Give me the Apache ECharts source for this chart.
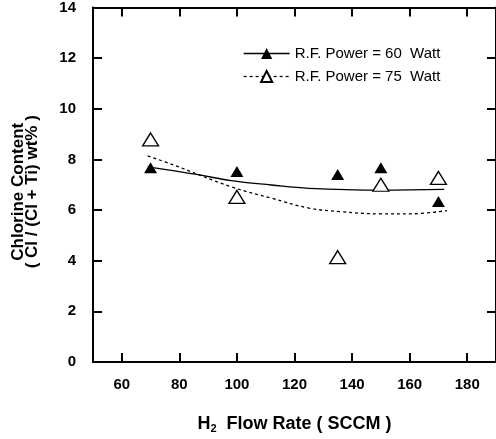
<!DOCTYPE html>
<html>
<head>
    <meta charset="utf-8"/>
    <title>Chlorine Content</title>
    <script type="text/javascript" src="https://cdn.jsdelivr.net/npm/echarts@6/dist/echarts.min.js"></script>
    <style>
        html, body {
            margin: 0;
            padding: 0;
            background: #fff;
        }

        #chart {
            width: 496px;
            height: 439px;
        }
    </style>
</head>
<body>
<div id="chart"></div>

<script type="text/javascript">
    // tick labels
    let xTicks = [60, 80, 100, 120, 140, 160, 180];

    // measured points
    let flowRates = [70, 100, 135, 150, 170];
    let cl60 = [7.67, 7.52, 7.40, 7.67, 6.34];
    let cl75 = [8.79, 6.52, 4.14, 7.00, 7.27];

    // fitted curves
    let fit60X = [69, 86, 98, 112, 125, 150, 172];
    let fit60Y = [7.71, 7.41, 7.16, 6.99, 6.86, 6.79, 6.82];
    let fit75X = [69, 78, 98, 112, 125, 136, 150, 160, 173];
    let fit75Y = [8.14, 7.78, 6.92, 6.47, 6.08, 5.94, 5.85, 5.85, 5.98];

    let name60 = 'R.F. Power = 60  Watt';
    let name75 = 'R.F. Power = 75  Watt';

    function pairs(xs, ys) {
        return xs.map(function (x, i) {
            return [x, ys[i]];
        });
    }

    let font = 'Liberation Sans, Arial, sans-serif';
    let axisLine = {show: true, onZero: false, lineStyle: {color: '#000', width: 2}};
    let axisTick = {show: true, inside: true, length: 9, lineStyle: {color: '#000', width: 2}};

    let chart = echarts.init(document.getElementById('chart'));
    chart.setOption({
        animation: false,
        backgroundColor: '#fff',
        grid: {
            left: 93,
            right: 0,
            top: 7,
            bottom: 76
        },
        legend: {
            orient: 'vertical',
            left: 238,
            top: 41,
            itemWidth: 46,
            itemHeight: 14,
            itemGap: 8,
            textStyle: {
                fontFamily: font,
                fontSize: 15,
                color: '#000'
            },
            data: [
                {name: name60, lineStyle: {color: '#000', width: 1.3, type: 'solid', opacity: 1}},
                {name: name75, lineStyle: {color: '#000', width: 1.3, type: [3, 3], opacity: 1}}
            ]
        },
        xAxis: [
            {
                type: 'value',
                position: 'bottom',
                min: 50,
                max: 190,
                axisLine: axisLine,
                axisTick: Object.assign({customValues: xTicks}, axisTick),
                splitLine: {show: false},
                axisLabel: {
                    customValues: xTicks,
                    margin: 15,
                    color: '#000',
                    fontFamily: font,
                    fontSize: 15,
                    fontWeight: 'bold'
                },
                name: '{b|H}{s|2}  Flow Rate ( SCCM )',
                nameLocation: 'middle',
                nameGap: 53,
                nameTextStyle: {
                    rich: {
                        b: {fontFamily: font, fontSize: 18, fontWeight: 'bold', color: '#000'},
                        s: {fontFamily: font, fontSize: 11, fontWeight: 'bold', color: '#000', padding: [8, 0, 0, 0]}
                    },
                    fontFamily: font,
                    fontSize: 18,
                    fontWeight: 'bold',
                    color: '#000'
                }
            },
            {
                type: 'value',
                position: 'top',
                min: 50,
                max: 190,
                axisLine: axisLine,
                axisTick: Object.assign({customValues: xTicks}, axisTick),
                axisLabel: {show: false},
                splitLine: {show: false}
            }
        ],
        yAxis: [
            {
                type: 'value',
                position: 'left',
                min: 0,
                max: 14,
                interval: 2,
                axisLine: axisLine,
                axisTick: axisTick,
                splitLine: {show: false},
                axisLabel: {
                    margin: 17,
                    color: '#000',
                    fontFamily: font,
                    fontSize: 15,
                    fontWeight: 'bold'
                },
                name: 'Chlorine Content\n( Cl / (Cl + Ti) wt% )',
                nameLocation: 'middle',
                nameRotate: 90,
                nameGap: 54,
                nameTextStyle: {
                    fontFamily: font,
                    fontSize: 17,
                    fontWeight: 'bold',
                    lineHeight: 14,
                    color: '#000',
                    padding: [0, 14, 0, 0]
                }
            },
            {
                type: 'value',
                position: 'right',
                min: 0,
                max: 14,
                interval: 2,
                axisLine: axisLine,
                axisTick: axisTick,
                axisLabel: {show: false},
                splitLine: {show: false}
            }
        ],
        series: [
            {
                name: 'fit60',
                type: 'line',
                smooth: 0.4,
                symbol: 'none',
                data: pairs(fit60X, fit60Y),
                lineStyle: {color: '#000', width: 1.3, type: 'solid'},
                z: 2
            },
            {
                name: 'fit75',
                type: 'line',
                smooth: 0.4,
                symbol: 'none',
                data: pairs(fit75X, fit75Y),
                lineStyle: {color: '#000', width: 1.3, type: [3, 3]},
                z: 2
            },
            {
                name: name60,
                type: 'line',
                symbol: 'triangle',
                symbolSize: [13, 11],
                data: pairs(flowRates, cl60),
                lineStyle: {opacity: 0},
                itemStyle: {color: '#000', borderColor: '#000', borderWidth: 0},
                z: 5
            },
            {
                name: name75,
                type: 'line',
                symbol: 'triangle',
                symbolSize: [16, 13],
                data: pairs(flowRates, cl75),
                lineStyle: {opacity: 0},
                itemStyle: {color: '#fff', borderColor: '#000', borderWidth: 1.3},
                z: 5
            }
        ]
    });
</script>
</body>
</html>
